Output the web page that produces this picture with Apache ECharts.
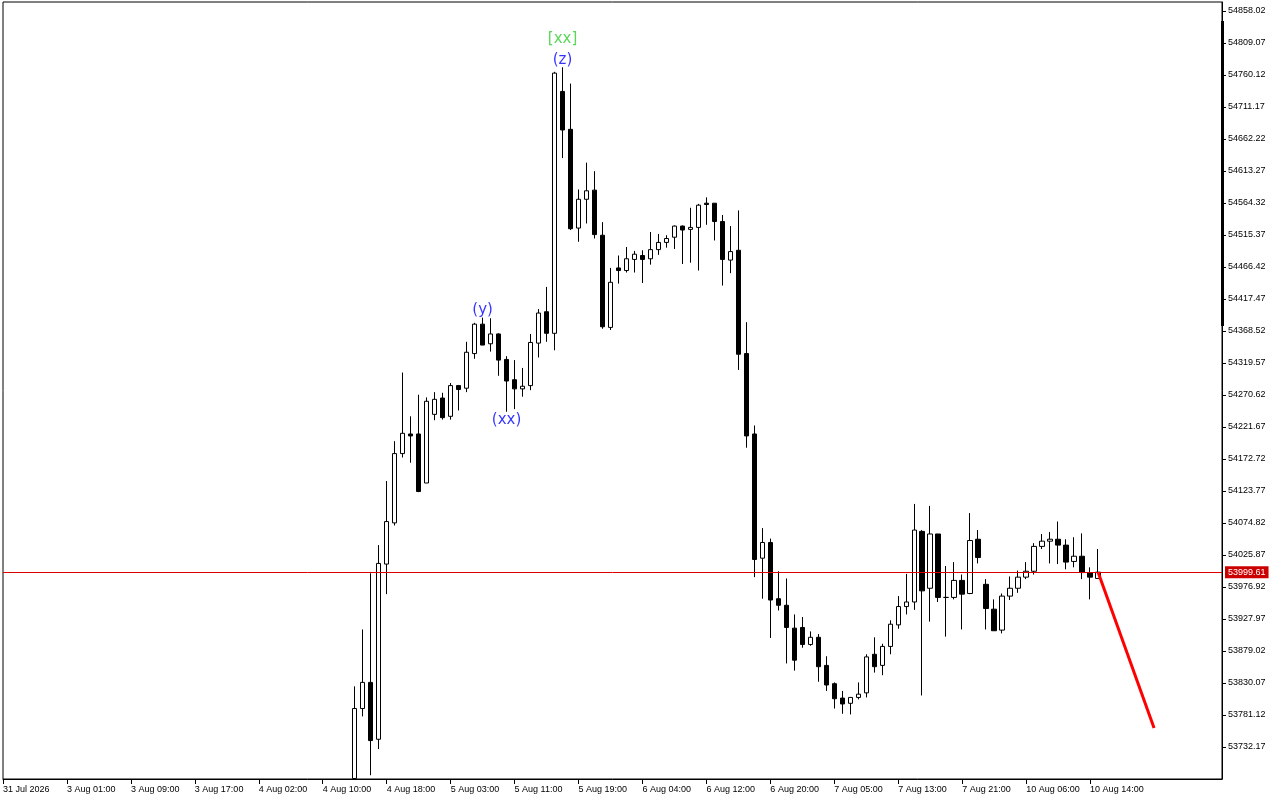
<!DOCTYPE html>
<html><head><meta charset="utf-8">
<script src="https://cdn.jsdelivr.net/npm/echarts@6/dist/echarts.min.js"></script>
<style>html,body{margin:0;padding:0;background:#fff}#c{width:1280px;height:800px}</style>
</head><body><div id="c"></div>
<script>
// time labels, one every 8 hourly bars starting at bar 0
const tickLabels = ['31 Jul 2026','3 Aug 01:00','3 Aug 09:00','3 Aug 17:00','4 Aug 02:00','4 Aug 10:00','4 Aug 18:00','5 Aug 03:00','5 Aug 11:00','5 Aug 19:00','6 Aug 04:00','6 Aug 12:00','6 Aug 20:00','7 Aug 05:00','7 Aug 13:00','7 Aug 21:00','10 Aug 06:00','10 Aug 14:00'];
const yTickLabels = ['53732.17','53781.12','53830.07','53879.02','53927.97','53976.92','54025.87','54074.82','54123.77','54172.72','54221.67','54270.62','54319.57','54368.52','54417.47','54466.42','54515.37','54564.32','54613.27','54662.22','54711.17','54760.12','54809.07','54858.02'];
// first visible bar index (bars 0..43 lie below the visible price range)
const firstBar = 44;
const opens  = [53684,53791,53831,53744,54012,54075,54181,54211,54211,54136,54241,54266,54238,54285,54281,54334,54379,54349,54364,54325,54294,54280,54285,54350,54398,54365,54735,54677,54526,54570,54584,54515,54374,54465,54461,54478,54484,54479,54493,54504,54512,54529,54524,54527,54564,54564,54536,54477,54492,54334,54211,54021,54045,53959,53949,53914,53915,53889,53900,53857,53829,53807,53799,53808,53815,53874,53857,53886,53919,53947,53954,54062,53975,54058,53961,53961,53987,53967,54050,53981,53943,53911,53963,53975,53992,54001,54039,54047,54050,54041,54016,54024,53999,53990];
const closes = [53791,53831,53742,54013,54077,54181,54212,54208,54123,54261,54264,54236,54285,54279,54336,54379,54347,54364,54324,54292,54280,54284,54351,54396,54365,54763,54676,54525,54570,54583,54516,54375,54443,54461,54479,54486,54478,54493,54504,54510,54529,54523,54527,54561,54562,54536,54478,54490,54333,54208,54019,54045,53957,53949,53915,53865,53889,53900,53855,53827,53806,53798,53808,53813,53870,53855,53886,53920,53947,53954,54064,53971,54058,53961,53961,53987,53966,54048,54022,53944,53910,53963,53975,53992,54001,54039,54047,54050,54041,54015,54024,53999,53992,53999.61];
const lows   = [53684,53779,53689,53729,53966,54071,54175,54167,54122,54136,54232,54233,54233,54247,54275,54326,54347,54337,54300,54245,54249,54268,54278,54328,54352,54339,54633,54523,54505,54533,54510,54372,54370,54441,54458,54458,54442,54470,54485,54496,54494,54471,54473,54461,54531,54507,54438,54457,54309,54190,53992,53959,53899,53941,53860,53849,53884,53887,53832,53818,53791,53783,53782,53805,53808,53846,53842,53874,53913,53935,53942,53811,53924,53954,53901,53958,53912,53966,54013,53912,53910,53906,53957,53968,53989,53996,54035,54013,54012,54004,54007,53989,53958,53990];
const highs  = [53825,53912,53998,54041,54139,54200,54305,54238,54271,54267,54275,54274,54289,54286,54352,54381,54389,54388,54365,54330,54324,54312,54364,54402,54436,54765,54772,54747,54585,54626,54613,54535,54465,54484,54497,54491,54492,54520,54517,54515,54530,54530,54557,54563,54573,54564,54546,54529,54553,54382,54224,54067,54051,54001,53990,53935,53931,53909,53905,53871,53831,53818,53808,53831,53874,53900,53890,53926,53963,53997,54104,54064,54101,54058,54009,54015,53996,54090,54064,53989,53958,53967,53993,54002,54015,54044,54058,54061,54077,54050,54053,54059,54007,54035];
const currentPrice = 53999.61;
const forecastBars = [137, 144];
const forecastValues = [53999.61, 53761.2];
const waveTexts = ['(y)', '(xx)', '(z)', '[xx]'];
const waveBars = [60, 63, 70, 70];
const waveValues = [54389, 54245, 54772, 54772];

const chart = echarts.init(document.getElementById('c'), null, {renderer: 'canvas'});
const candleData = opens.map((o, k) => [firstBar + k, o, closes[k], lows[k], highs[k]]);
const xTickPos = tickLabels.map((_, k) => k * 8);
const yTickVals = yTickLabels.map(Number);
const waveStyles = [
  {position: 'top', distance: 0, color: '#0000ff'},
  {position: 'bottom', distance: 1, color: '#0000ff'},
  {position: 'top', distance: 0, color: '#0000ff'},
  {position: 'top', distance: 21, color: '#32cd32'}
];
const FONT = 'Liberation Sans';
chart.setOption({
  animation: false,
  backgroundColor: '#ffffff',
  textStyle: {fontFamily: FONT},
  grid: {left: 2, top: 2, right: 58, bottom: 21, show: true, borderColor: '#000', borderWidth: 1, backgroundColor: '#fff'},
  xAxis: {
    type: 'value', min: 0, max: 152.5, interval: 8,
    splitLine: {show: false},
    axisLine: {show: true, onZero: false, lineStyle: {color: '#000', width: 1}},
    axisTick: {show: true, length: 5, lineStyle: {color: '#000'}, customValues: xTickPos},
    axisLabel: {customValues: xTickPos, formatter: v => tickLabels[Math.round(v / 8)] || '', align: 'left', margin: 6, color: '#000', fontSize: 9, fontFamily: FONT, showMinLabel: true, showMaxLabel: true, hideOverlap: false}
  },
  yAxis: {
    type: 'value', position: 'right', min: 53683.22, max: 54871.79, interval: 48.95,
    splitLine: {show: false},
    axisLine: {show: true, onZero: false, lineStyle: {color: '#000', width: 1}},
    axisTick: {show: true, length: 4, lineStyle: {color: '#000'}, customValues: yTickVals},
    axisLabel: {customValues: yTickVals, formatter: v => v.toFixed(2), margin: 6, color: '#000', fontSize: 9, fontFamily: FONT, showMinLabel: true, showMaxLabel: true, hideOverlap: false}
  },
  graphic: [{type: 'rect', z: 100, shape: {x: 1221, y: 21, width: 3, height: 305}, style: {fill: '#000'}}],
  series: [
    {
      type: 'candlestick', barWidth: 5, clip: true,
      itemStyle: {color: '#fff', color0: '#000', borderColor: '#000', borderColor0: '#000', borderColorDoji: '#000', borderWidth: 1},
      data: candleData,
      markLine: {
        silent: true, symbol: 'none', animation: false,
        lineStyle: {color: '#dd0000', width: 1, type: 'solid'},
        label: {show: true, position: 'end', distance: 3, formatter: () => currentPrice.toFixed(2), backgroundColor: '#cc0000', color: '#fff', padding: [2, 3, 1, 3], fontSize: 9, fontFamily: FONT},
        data: [{yAxis: currentPrice}]
      }
    },
    {
      type: 'line', symbol: 'none', z: 5,
      lineStyle: {color: '#ff0000', width: 3},
      data: forecastBars.map((b, k) => [b, forecastValues[k]])
    },
    {
      type: 'scatter', symbolSize: 0, z: 6,
      data: waveTexts.map((t, k) => ({
        value: [waveBars[k], waveValues[k]],
        label: {show: true, formatter: t, position: waveStyles[k].position, distance: waveStyles[k].distance, color: waveStyles[k].color, fontSize: 15, fontFamily: 'DejaVu Sans'}
      }))
    }
  ]
});
</script></body></html>
